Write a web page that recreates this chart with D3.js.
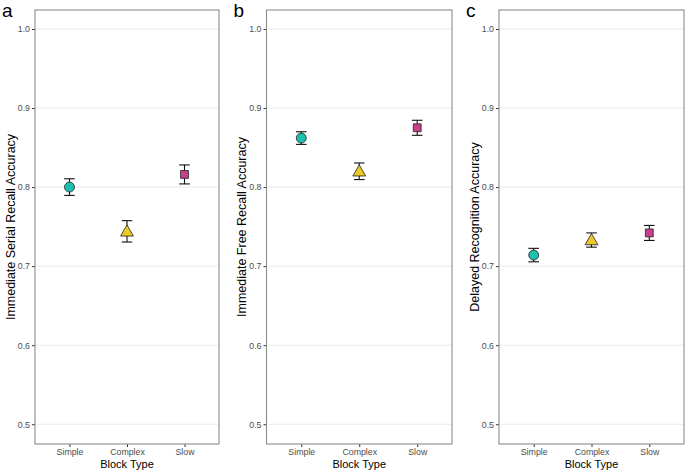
<!DOCTYPE html>
<html><head><meta charset="utf-8">
<script src="https://cdn.jsdelivr.net/npm/d3@7"></script>
<style>body{margin:0;background:#fff;} svg{display:block;font-family:"Liberation Sans",Arial,sans-serif;}</style>
</head><body>
<svg id="c" width="685" height="471"></svg>
<script>
const categories = ["Simple", "Complex", "Slow"];
const yTicks = [0.5, 0.6, 0.7, 0.8, 0.9, 1.0];
const panelLetters = ["a", "b", "c"];
const yTitles = ["Immediate Serial Recall Accuracy", "Immediate Free Recall Accuracy", "Delayed Recognition Accuracy"];
const serialMean = [0.800, 0.744, 0.816];
const serialErr = [0.0105, 0.0135, 0.012];
const freeMean = [0.862, 0.820, 0.875];
const freeErr = [0.008, 0.0105, 0.0095];
const recogMean = [0.714, 0.733, 0.742];
const recogErr = [0.0085, 0.009, 0.0095];
const colors = ["#1dbfae", "#ecc924", "#c7408d"];
const shapes = [d3.symbolCircle, d3.symbolTriangle, d3.symbolSquare];

const panels = [
  {left: 35, right: 219, mean: serialMean, err: serialErr},
  {left: 266.5, right: 452, mean: freeMean, err: freeErr},
  {left: 499, right: 684, mean: recogMean, err: recogErr}
];
const plotTop = 10, plotBottom = 444;
const svg = d3.select("#c");
const y = d3.scaleLinear().domain([0.475, 1.024]).range([plotBottom, plotTop]);

panels.forEach((p, i) => {
  const g = svg.append("g");
  const x = d3.scalePoint().domain(categories).range([p.left, p.right]).padding(0.6);
  g.selectAll("line.grid").data(yTicks).join("line")
    .attr("x1", p.left).attr("x2", p.right)
    .attr("y1", d => y(d)).attr("y2", d => y(d))
    .attr("stroke", "#ebebeb").attr("stroke-width", 1);
  const ya = g.append("g").attr("transform", `translate(${p.left},0)`)
    .call(d3.axisLeft(y).tickValues(yTicks).tickFormat(d3.format(".1f")).tickSize(3).tickPadding(2));
  ya.select(".domain").remove();
  ya.selectAll("line").attr("stroke", "#333");
  ya.selectAll("text").attr("fill", "#4d4d4d").style("font-size", "8.8px").style("font-family", "Liberation Sans, Arial, sans-serif");
  const xa = g.append("g").attr("transform", `translate(0,${plotBottom})`)
    .call(d3.axisBottom(x).tickSize(3).tickPadding(2));
  xa.select(".domain").remove();
  xa.selectAll("line").attr("stroke", "#333");
  xa.selectAll("text").attr("fill", "#4d4d4d").style("font-size", "8.8px").style("font-family", "Liberation Sans, Arial, sans-serif");
  g.append("rect").attr("x", p.left).attr("y", plotTop).attr("width", p.right - p.left).attr("height", plotBottom - plotTop)
    .attr("fill", "none").attr("stroke", "#8c8c8c").attr("stroke-width", 1.1);
  g.append("text").attr("x", (p.left + p.right) / 2).attr("y", 468).attr("text-anchor", "middle")
    .style("font-size", "11px").attr("fill", "#000").text("Block Type");
  g.append("text").attr("transform", `translate(${p.left - 20.5},${(plotTop + plotBottom) / 2}) rotate(-90)`)
    .attr("text-anchor", "middle").style("font-size", "12.5px").attr("fill", "#000").text(yTitles[i]);
  g.append("text").attr("x", p.left - 33).attr("y", 17).style("font-size", "19px").attr("fill", "#000").text(panelLetters[i]);
  categories.forEach((c, j) => {
    const cx = x(c);
    const lo = y(p.mean[j] - p.err[j]), hi = y(p.mean[j] + p.err[j]);
    const eb = g.append("g").attr("stroke", "#111").attr("stroke-width", 1.1);
    eb.append("line").attr("x1", cx).attr("x2", cx).attr("y1", lo).attr("y2", hi);
    eb.append("line").attr("x1", cx - 5.3).attr("x2", cx + 5.3).attr("y1", lo).attr("y2", lo);
    eb.append("line").attr("x1", cx - 5.3).attr("x2", cx + 5.3).attr("y1", hi).attr("y2", hi);
    const sizes = [78, 72, 62];
    const dy = j === 1 ? 1 : 0;
    g.append("path").attr("d", d3.symbol().type(shapes[j]).size(sizes[j])())
      .attr("transform", `translate(${cx},${y(p.mean[j]) + dy})`)
      .attr("fill", colors[j]).attr("stroke", "#222").attr("stroke-width", 0.8);
  });
});
</script>
</body></html>
